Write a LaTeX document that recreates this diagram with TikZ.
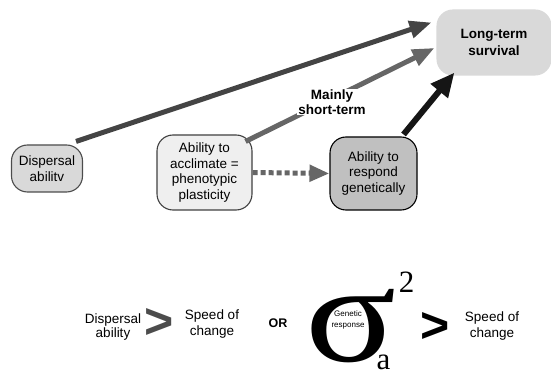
\documentclass[tikz,border=0pt]{standalone}
\usepackage{fontspec}
\setmainfont{Liberation Sans}
\newfontfamily\timesfont{Liberation Serif}
\usetikzlibrary{arrows.meta,calc}

\definecolor{arrdark}{HTML}{444444}
\definecolor{arrmid}{HTML}{666666}
\definecolor{arrblack}{HTML}{151515}
\definecolor{fillmid}{HTML}{D9D9D9}
\definecolor{filllight}{HTML}{EFEFEF}
\definecolor{filldark}{HTML}{C0C0C0}

\tikzset{
  box/.style={rounded corners=16pt, align=center, inner sep=2pt,
    line width=1.1pt, font=\fontsize{13.5}{15.5}\selectfont},
  bigarrow/.style={line width=5pt, -{Triangle[length=22pt,width=17pt]}},
  blackarrow/.style={line width=6pt, -{Triangle[length=24pt,width=21pt]}},
  hatcharrow/.style={line width=5pt, dash pattern=on 5pt off 3pt,
    -{Triangle[length=20pt,width=16pt]}},
  plain/.style={align=center, inner sep=0pt, font=\fontsize{13.5}{15}\selectfont},
  chevron/.style={inner sep=0pt, font=\fontsize{50}{50}\selectfont\bfseries},
  serifbig/.style={inner sep=0pt, font=\timesfont\fontsize{31}{31}\selectfont},
}

\begin{document}
\begin{tikzpicture}[x=1pt,y=1pt]
\useasboundingbox (0,0) rectangle (551,372);

% boxes of the upper diagram
\node[box, draw=black!70, fill=fillmid, minimum width=71pt, minimum height=47pt]
  (disp) at (47,203.5) {Dispersal\\abilitv};
\node[box, draw=black!75, fill=filllight, minimum width=95pt, minimum height=75pt]
  (accl) at (204.5,199.5) {Ability to\\acclimate =\\phenotypic\\plasticity};
\node[box, draw=black, fill=filldark, minimum width=87pt, minimum height=73pt]
  (gen) at (373.5,198.5) {Ability to\\respond\\genetically};
\node[box, draw=fillmid, fill=fillmid, minimum width=114pt, minimum height=65pt,
  font=\fontsize{13.5}{17}\selectfont\bfseries]
  (lt) at (494,329.5) {Long-term\\survival};

% connectors
\draw[bigarrow, color=arrdark] ([shift={(-7,3)}]disp.north east) -- ([shift={(-5,20)}]lt.west);
\draw[bigarrow, color=arrmid] ([shift={(-7,-7)}]accl.north east) -- ([shift={(-2,-5.5)}]lt.west);
\node[fill=white, align=center, inner sep=1pt, font=\fontsize{13.5}{15}\selectfont\bfseries]
  (lbl) at (332,270) {Mainly\\short-term};
\draw[blackarrow, color=arrblack] ([shift={(-14,2)}]gen.north east) -- ([shift={(18,3)}]lt.south west);
\draw[hatcharrow, color=arrmid] (accl.east) -- (gen.west);

% lower relation
\node[plain, font=\fontsize{13.5}{14}\selectfont] (dab) at (113,45) {Dispersal\\ability};
\node[chevron, text=black!70] (gt1) at (159.5,49) {>};
\node[plain, font=\fontsize{13.5}{16}\selectfont] (sp1) at (212,48) {Speed of\\change};
\node[inner sep=0pt, font=\fontsize{12.5}{14}\selectfont\bfseries] (or) at (278,49) {OR};
\node[inner sep=0pt, anchor=base, font=\timesfont\fontsize{141}{141}\selectfont]
  (sig) at (351,11) {\scalebox{1.2}[1]{σ}};
\node[align=center, inner sep=0pt, font=\fontsize{8}{11}\selectfont] (gr) at (348,52.5) {Genetic\\response};
\node[serifbig] (two) at (406.5,89.5) {2};
\node[serifbig] (sub) at (383.5,10) {a};
\node[chevron, text=black] (gt2) at (435,45) {>};
\node[plain, font=\fontsize{13.5}{16}\selectfont] (sp2) at (492,46) {Speed of\\change};
\end{tikzpicture}
\end{document}
